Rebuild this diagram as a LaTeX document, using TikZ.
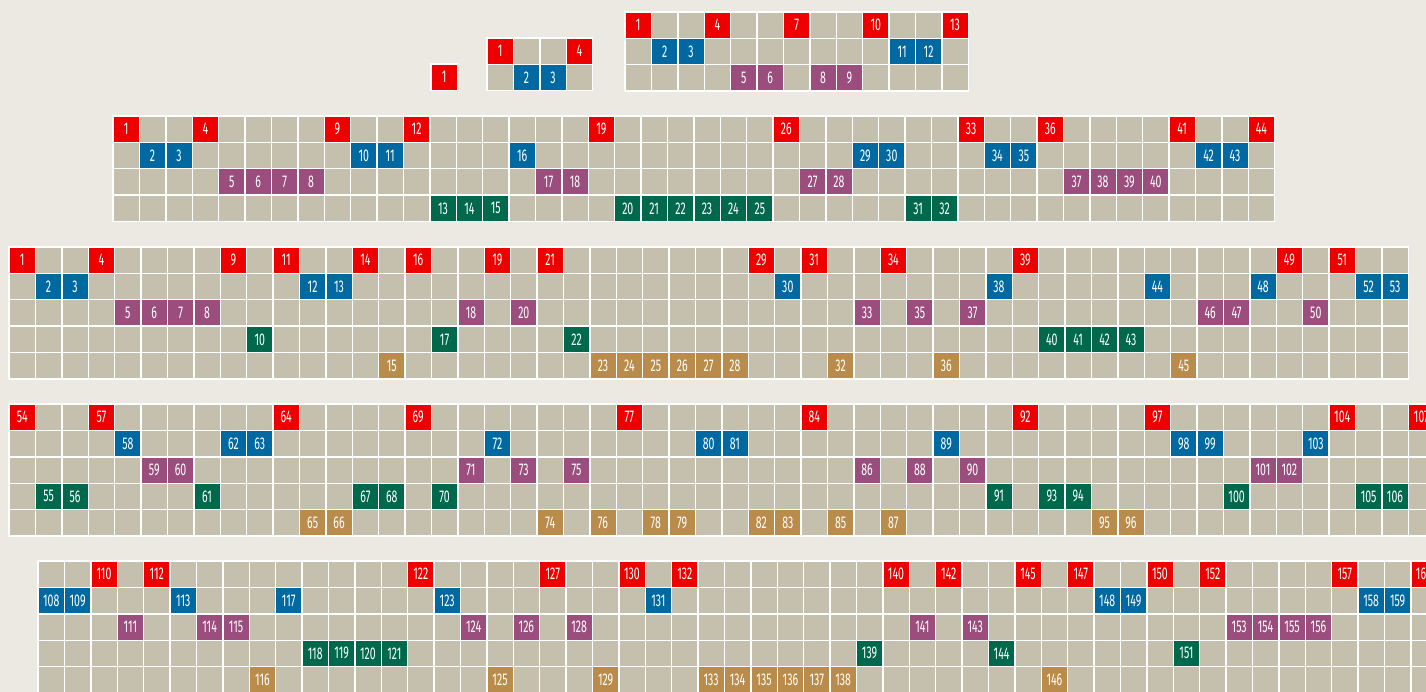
\documentclass[tikz,border=0pt]{standalone}
\usepackage{fontspec}
\newfontfamily\numfont[FakeStretch=0.62]{Fira Sans}
\usetikzlibrary{positioning}

\definecolor{paper}{HTML}{ECE9E2}
\definecolor{blankc}{HTML}{C5BFAE}
\definecolor{rowc0}{HTML}{EE0000}
\definecolor{rowc1}{HTML}{0069A1}
\definecolor{rowc2}{HTML}{9B4E7D}
\definecolor{rowc3}{HTML}{00694C}
\definecolor{rowc4}{HTML}{BA8C4C}

\def\cs{26.4}
\tikzset{
  blank/.style={fill=blankc, draw=white, line width=1.4pt},
  numcell/.style={rectangle, draw=white, line width=1.4pt, inner sep=0pt,
                  minimum size=\cs pt, text=white,
                  font=\numfont\fontsize{17}{17}\selectfont},
}

% #1 name, #2/#3 top left, #4 cols, #5 rows, #6 list number/row
\newcommand{\cellgrid}[6]{%
  \foreach \i in {1,...,#4} \foreach \j in {1,...,#5}
    \draw[blank] ({#2+(\i-1)*\cs},{#3+(\j-1)*\cs}) rectangle ++(\cs,\cs);
  \foreach \n/\r [count=\i from 0] in {#6}
    \node[numcell, fill=rowc\r] (#1\n) at ({#2+(\i+0.5)*\cs},{#3+(\r+0.5)*\cs}) {\n};
}

\begin{document}
\begin{tikzpicture}[x=1pt, y=-1pt]
  \fill[paper] (0,0) rectangle (1426,692);
  \useasboundingbox (0,0) rectangle (1426,692);
  \clip (0,0) rectangle (1426,692);

  \cellgrid{a}{431}{64}{1}{1}{1/0}
  \cellgrid{b}{487}{38}{4}{2}{1/0,2/1,3/1,4/0}
  \cellgrid{c}{625}{12}{13}{3}{1/0,2/1,3/1,4/0,5/2,6/2,7/0,8/2,9/2,10/0,11/1,12/1,13/0}

  \cellgrid{d}{113}{116}{44}{4}{1/0,2/1,3/1,4/0,5/2,6/2,7/2,8/2,9/0,10/1,11/1,12/0,13/3,14/3,15/3,16/1,17/2,18/2,19/0,20/3,21/3,22/3,23/3,24/3,25/3,26/0,27/2,28/2,29/1,30/1,31/3,32/3,33/0,34/1,35/1,36/0,37/2,38/2,39/2,40/2,41/0,42/1,43/1,44/0}

  \cellgrid{e}{9}{247}{53}{5}{1/0,2/1,3/1,4/0,5/2,6/2,7/2,8/2,9/0,10/3,11/0,12/1,13/1,14/0,15/4,16/0,17/3,18/2,19/0,20/2,21/0,22/3,23/4,24/4,25/4,26/4,27/4,28/4,29/0,30/1,31/0,32/4,33/2,34/0,35/2,36/4,37/2,38/1,39/0,40/3,41/3,42/3,43/3,44/1,45/4,46/2,47/2,48/1,49/0,50/2,51/0,52/1,53/1}

  \cellgrid{f}{9}{404}{54}{5}{54/0,55/3,56/3,57/0,58/1,59/2,60/2,61/3,62/1,63/1,64/0,65/4,66/4,67/3,68/3,69/0,70/3,71/2,72/1,73/2,74/4,75/2,76/4,77/0,78/4,79/4,80/1,81/1,82/4,83/4,84/0,85/4,86/2,87/4,88/2,89/1,90/2,91/3,92/0,93/3,94/3,95/4,96/4,97/0,98/1,99/1,100/3,101/2,102/2,103/1,104/0,105/3,106/3,107/0}

  \cellgrid{g}{38}{561}{53}{5}{108/1,109/1,110/0,111/2,112/0,113/1,114/2,115/2,116/4,117/1,118/3,119/3,120/3,121/3,122/0,123/1,124/2,125/4,126/2,127/0,128/2,129/4,130/0,131/1,132/0,133/4,134/4,135/4,136/4,137/4,138/4,139/3,140/0,141/2,142/0,143/2,144/3,145/0,146/4,147/0,148/1,149/1,150/0,151/3,152/0,153/2,154/2,155/2,156/2,157/0,158/1,159/1,160/0}
\end{tikzpicture}
\end{document}
